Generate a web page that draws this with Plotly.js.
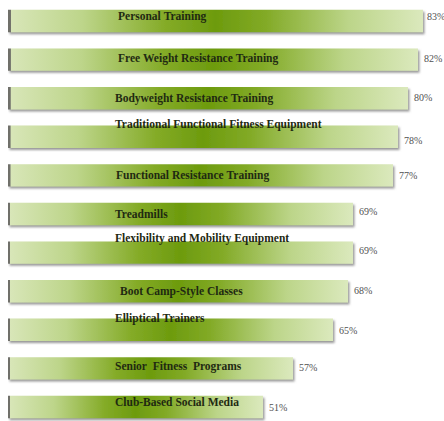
<!DOCTYPE html>
<html>
<head>
<meta charset="utf-8">
<script src="https://cdn.plot.ly/plotly-3.0.1.min.js"></script>
<style>
html,body{margin:0;padding:0;background:#fff;}
#chart{width:444px;height:421px;}
</style>
</head>
<body>
<div id="chart"></div>
<script>
// ---- data ----
const categories = [
  "Personal Training",
  "Free Weight Resistance Training",
  "Bodyweight Resistance Training",
  "Traditional Functional Fitness Equipment",
  "Functional Resistance Training",
  "Treadmills",
  "Flexibility and Mobility Equipment",
  "Boot Camp-Style Classes",
  "Elliptical Trainers",
  "Senior  Fitness  Programs",
  "Club-Based Social Media"
];
const values = [83, 82, 80, 78, 77, 69, 69, 68, 65, 57, 51];
const valueLabels = ["83%", "82%", "80%", "78%", "77%", "69%", "69%", "68%", "65%", "57%", "51%"];

// ---- layout tweaks (label offsets in px) ----
const nameShift = [5, 1, 0, 12, 0, 0, 14, 0, 11, 2, 5];
const nameXShift = [3, 3, 0, 0, 1, 0, 0, 5, 0, 0, 0];
const pctShift = [5, 1, 1, -4, 0, 2, 2, 1, -1, 1, -1];

const trace = {
  type: "bar",
  orientation: "h",
  x: values,
  y: categories,
  width: 0.58,
  marker: {color: "#8db43a", line: {width: 0}},
  hoverinfo: "none"
};

const annotations = [];
categories.forEach((c, i) => {
  annotations.push({
    xref: "x", yref: "y", x: 21, y: c,
    xanchor: "left", yanchor: "middle",
    xshift: nameXShift[i], yshift: nameShift[i],
    text: "<b>" + c.replace(/ /g, "&nbsp;") + "</b>",
    showarrow: false,
    font: {family: "Liberation Serif, DejaVu Serif, serif", size: 11.5, color: "#1f2a12"}
  });
  annotations.push({
    xref: "x", yref: "y", x: values[i], y: c,
    xanchor: "left", yanchor: "middle",
    xshift: i === 0 ? 2 : 4, yshift: pctShift[i],
    text: valueLabels[i],
    showarrow: false,
    font: {family: "Liberation Serif, DejaVu Serif, serif", size: 10, color: "#505050"}
  });
});

const layout = {
  width: 444, height: 421,
  margin: {l: 8, r: 0, t: 0, b: 0, pad: 0},
  paper_bgcolor: "#ffffff", plot_bgcolor: "#ffffff",
  showlegend: false,
  xaxis: {range: [0, 87.2], visible: false, fixedrange: true},
  yaxis: {range: [10.363, -0.544], visible: false, fixedrange: true, type: "category"},
  annotations: annotations
};

Plotly.newPlot("chart", [trace], layout, {displayModeBar: false, staticPlot: true}).then(() => {
  const svg = document.querySelector("#chart .main-svg");
  const ns = "http://www.w3.org/2000/svg";
  let defs = svg.querySelector("defs");
  if (!defs) { defs = document.createElementNS(ns, "defs"); svg.insertBefore(defs, svg.firstChild); }
  const grad = document.createElementNS(ns, "linearGradient");
  grad.setAttribute("id", "barGrad");
  grad.setAttribute("x1", "0"); grad.setAttribute("x2", "1");
  grad.setAttribute("y1", "0"); grad.setAttribute("y2", "0");
  const stops = [
    [0, "#70706a"], [0.006, "#70706a"], [0.007, "#d8e6b8"],
    [0.18, "#bdd58a"], [0.38, "#84ab27"], [0.5, "#6d9b0e"],
    [0.62, "#82aa26"], [0.82, "#bcd589"], [1, "#dbe9bd"]
  ];
  stops.forEach(([o, c]) => {
    const s = document.createElementNS(ns, "stop");
    s.setAttribute("offset", o); s.setAttribute("stop-color", c);
    grad.appendChild(s);
  });
  defs.appendChild(grad);
  const filt = document.createElementNS(ns, "filter");
  filt.setAttribute("id", "barShadow");
  filt.setAttribute("x", "-5%"); filt.setAttribute("y", "-20%");
  filt.setAttribute("width", "110%"); filt.setAttribute("height", "150%");
  const ds = document.createElementNS(ns, "feDropShadow");
  ds.setAttribute("dx", "1.5"); ds.setAttribute("dy", "2");
  ds.setAttribute("stdDeviation", "0.8");
  ds.setAttribute("flood-color", "#7f7f7f"); ds.setAttribute("flood-opacity", "0.8");
  filt.appendChild(ds);
  defs.appendChild(filt);
  document.querySelectorAll("#chart .bars .point path").forEach(p => {
    p.style.fill = "url(#barGrad)";
    p.setAttribute("filter", "url(#barShadow)");
  });
});
</script>
</body>
</html>
